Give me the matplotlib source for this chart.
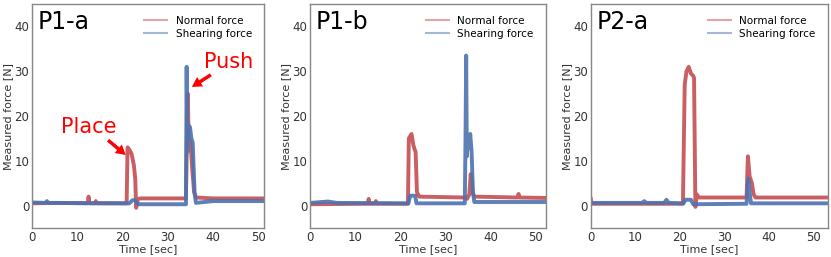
import matplotlib
matplotlib.use("Agg")
import matplotlib.pyplot as plt

# keypoints (time [sec], force [N])
p1a_t_normal = [0, 5, 12.3, 12.5, 12.7, 14, 14.1, 14.3, 20.9, 21.1, 21.5, 22.0, 22.5, 22.8, 23.0, 23.4, 24, 34.0, 34.2, 34.4, 34.6, 35.0, 35.4, 35.8, 36.2, 40, 51.2]
p1a_normal = [0.5, 0.6, 0.5, 2.0, 0.5, 0.5, 1.0, 0.5, 0.5, 13.0, 12.5, 11.5, 9.0, 6.0, -0.5, 1.5, 1.6, 1.6, 15.0, 25.0, 15.0, 14.0, 8.0, 3.0, 1.8, 1.6, 1.6]
p1a_t_shear = [0, 3, 3.3, 3.6, 21.5, 22.2, 22.8, 23.4, 34.0, 34.15, 34.3, 34.5, 34.9, 35.2, 35.5, 35.9, 36.2, 40, 51.2]
p1a_shear = [0.7, 0.6, 1.0, 0.6, 0.5, 1.2, 1.2, 0.3, 0.3, 31.0, 12.0, 18.0, 17.5, 15.0, 14.0, 3.0, 0.6, 1.0, 1.0]

p1b_t_normal = [0, 12.8, 13.0, 13.2, 14.4, 14.6, 14.8, 21.7, 21.9, 22.5, 22.9, 23.2, 23.4, 23.7, 24.2, 34.3, 34.8, 35.3, 35.6, 36.0, 36.4, 46.0, 46.2, 46.4, 52.2]
p1b_normal = [0.3, 0.4, 1.5, 0.4, 0.4, 1.0, 0.4, 0.4, 15.0, 16.0, 13.5, 12.5, 12.0, 3.0, 2.0, 1.8, 1.5, 2.5, 7.0, 3.0, 2.0, 1.8, 2.6, 1.8, 1.7]
p1b_t_shear = [0, 4, 6, 21.8, 22.2, 23.3, 23.6, 34.3, 34.45, 34.6, 34.75, 34.95, 35.2, 35.5, 35.8, 36.1, 36.4, 52.2]
p1b_shear = [0.6, 0.9, 0.6, 0.5, 2.2, 2.2, 0.5, 0.5, 15.0, 33.5, 11.0, 14.0, 13.0, 16.0, 12.0, 3.0, 0.8, 0.8]

p2a_t_normal = [0, 0.1, 0.3, 20.7, 21.1, 21.5, 22.0, 22.5, 23.0, 23.2, 23.5, 23.8, 24.3, 35.0, 35.3, 35.7, 36.2, 36.6, 37.0, 53.2]
p2a_normal = [1.5, 0.5, 0.4, 0.4, 27.0, 30.0, 31.0, 29.5, 29.0, 28.5, -0.3, 2.5, 1.8, 1.8, 11.0, 6.5, 5.0, 2.5, 1.8, 1.8]
p2a_t_shear = [0, 11.5, 12.0, 12.5, 16.5, 17.0, 17.5, 20.8, 21.3, 22.5, 23.0, 35.0, 35.4, 35.7, 36.0, 53.2]
p2a_shear = [0.6, 0.6, 1.0, 0.6, 0.6, 1.3, 0.6, 0.5, 1.3, 1.3, 0.3, 0.4, 6.0, 3.0, 0.5, 0.5]

panel_names = ["P1-a", "P1-b", "P2-a"]
x_ends = [51.2, 52.2, 53.2]

red = "#c44e52"
blue = "#4c72b0"

fig = plt.figure(figsize=(8.31, 2.57), dpi=100)
lefts = [0.0385, 0.373, 0.711]
widths = [0.279, 0.2836, 0.2848]

data = [
    (p1a_t_normal, p1a_normal, p1a_t_shear, p1a_shear),
    (p1b_t_normal, p1b_normal, p1b_t_shear, p1b_shear),
    (p2a_t_normal, p2a_normal, p2a_t_shear, p2a_shear),
]

axes = []
for i in range(3):
    ax = fig.add_axes([lefts[i], 0.113, widths[i], 0.871])
    tn, yn, ts, ys = data[i]
    ax.plot(tn, yn, color=red, lw=2.8, alpha=0.9, label="Normal force")
    ax.plot(ts, ys, color=blue, lw=2.8, alpha=0.9, label="Shearing force")
    ax.set_xlim(0, x_ends[i])
    ax.set_ylim(-5, 45)
    ax.set_xticks([0, 10, 20, 30, 40, 50])
    ax.set_yticks([0, 10, 20, 30, 40])
    ax.tick_params(length=0, labelsize=8.5, labelcolor="#333333", pad=2)
    for s in ax.spines.values():
        s.set_color("#888888")
        s.set_linewidth(1.0)
    ax.set_xlabel("Time [sec]", fontsize=8, color="#333333", labelpad=0)
    ax.set_ylabel("Measured force [N]", fontsize=8, color="#333333", labelpad=1)
    leg = ax.legend(loc="upper right", frameon=False, fontsize=7.5, handlelength=2.2,
                    borderaxespad=0.75, labelspacing=0.28)
    for h in leg.get_lines():
        h.set_alpha(0.5)
        h.set_linewidth(1.5)
    ax.text(0.025, 0.975, panel_names[i], transform=ax.transAxes, fontsize=17,
            va="top", ha="left")
    axes.append(ax)

ax = axes[0]
ax.annotate("", xy=(20.7, 11.3), xytext=(16.8, 14.6),
            arrowprops=dict(color="red", width=2.5, headwidth=8, headlength=7, lw=0))
ax.text(6.5, 17.5, "Place", color="red", fontsize=15, va="center")
ax.annotate("", xy=(35.3, 26.5), xytext=(39.5, 29.2),
            arrowprops=dict(color="red", width=2.5, headwidth=8, headlength=7, lw=0))
ax.text(38.0, 32.0, "Push", color="red", fontsize=15, va="center")

fig.savefig("out.png", dpi=100)
